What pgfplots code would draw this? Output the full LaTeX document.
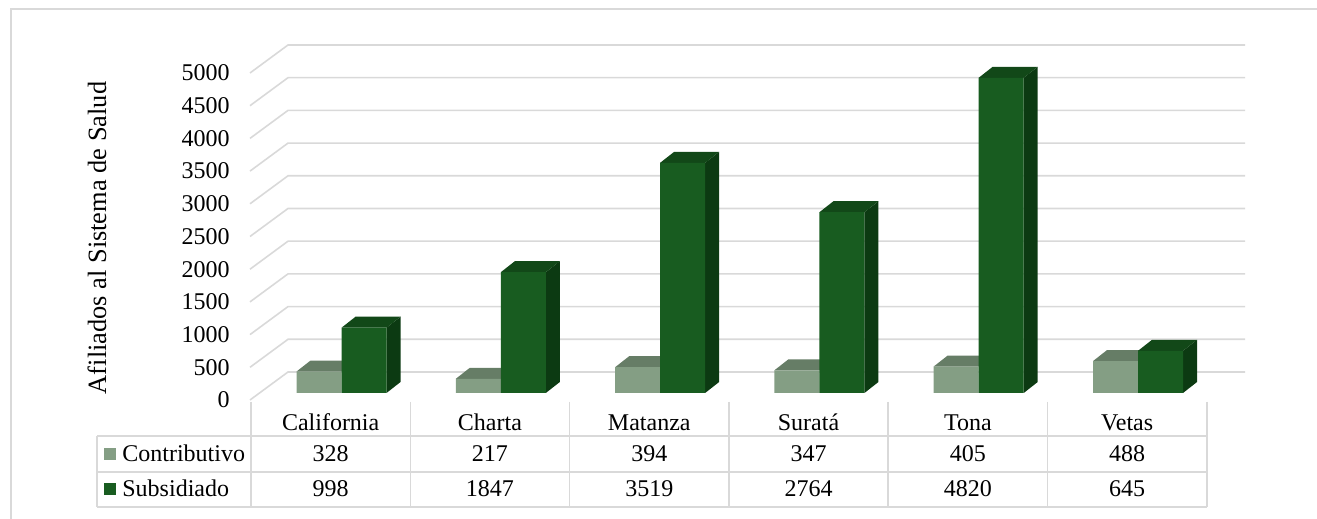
\documentclass[border=0pt]{standalone}
\usepackage{fontspec}
\setmainfont{Liberation Serif}
\usepackage{pgfplots}
\pgfplotsset{compat=1.18}
\usepackage{pgfplotstable}
\definecolor{gridc}{HTML}{D9D9D9}
\definecolor{conF}{HTML}{849E84}
\definecolor{conT}{HTML}{667D66}
\definecolor{subF}{HTML}{185C20}
\definecolor{subT}{HTML}{124818}
\definecolor{subS}{HTML}{0C3A12}

\pgfplotstableread{
x con sub
0 328 998
1 217 1847
2 394 3519
3 347 2764
4 405 4820
5 488 645
}\datatable

\newcommand{\dX}{0.0879}
\newcommand{\dY}{168}
\newcommand{\bw}{0.2825}

% top face of a Contributivo bar (bar lies left of the category position)
\newcommand{\contop}[2]{%
 \pgfmathsetmacro{\xa}{#1-\bw}\pgfmathsetmacro{\xb}{#1-\bw+\dX}\pgfmathsetmacro{\xc}{#1+\dX}\pgfmathsetmacro{\yb}{#2+\dY}%
 \addplot[fill=conT,draw=none,forget plot] coordinates {(\xa,#2) (\xb,\yb) (\xc,\yb) (#1,#2)};
}
% side and top faces of a Subsidiado bar (bar lies right of the category position)
\newcommand{\subcube}[2]{%
 \pgfmathsetmacro{\xa}{#1}\pgfmathsetmacro{\xb}{#1+\bw}\pgfmathsetmacro{\xc}{#1+\dX}\pgfmathsetmacro{\xd}{#1+\bw+\dX}\pgfmathsetmacro{\yb}{#2+\dY}%
 \addplot[fill=subS,draw=none,forget plot] coordinates {(\xb,0) (\xd,\dY) (\xd,\yb) (\xb,#2)};
 \addplot[fill=subT,draw=none,forget plot] coordinates {(\xa,#2) (\xc,\yb) (\xd,\yb) (\xb,#2)};
}

\begin{document}
\begin{tikzpicture}[font=\fontsize{12}{14}\selectfont]
\path[use as bounding box] (0,0) rectangle (658.5pt,259.5pt);
% outer frame
\draw[gridc, line width=0.75pt] (5.5pt,-5pt) -- (5.5pt,255pt) -- (670pt,255pt);
% 3D gridlines (side wall + back wall)
\foreach \v in {0,500,...,5000} {
  \draw[gridc, line width=0.8pt] (125pt,{59.5pt+0.0327pt*\v}) -- (144pt,{73.5pt+0.0327pt*\v}) -- (622.5pt,{73.5pt+0.0327pt*\v});
}
% data table grid
\foreach \yy in {41.5pt,23.5pt,6pt} {
  \draw[gridc, line width=0.8pt] (48.5pt,\yy) -- (603.4pt,\yy);
}
\foreach \k in {0,...,6} {
  \draw[gridc, line width=0.8pt] ({125.5pt+79.65pt*\k},58.5pt) -- ({125.5pt+79.65pt*\k},6pt);
}
\draw[gridc, line width=0.8pt] (48.5pt,41.5pt) -- (48.5pt,6pt);
% category names
\foreach \name [count=\k from 0] in {California,Charta,Matanza,Suratá,Tona,Vetas} {
  \node[anchor=base, inner sep=0pt] at ({165.325pt+79.65pt*\k},44pt) {\name};
}
% values
\foreach \val [count=\k from 0] in {328,217,394,347,405,488} {
  \node[anchor=base, inner sep=0pt] at ({165.325pt+79.65pt*\k},28.5pt) {\val};
}
\foreach \val [count=\k from 0] in {998,1847,3519,2764,4820,645} {
  \node[anchor=base, inner sep=0pt] at ({165.325pt+79.65pt*\k},11pt) {\val};
}
% legend keys
\fill[conF] (52pt,29.25pt) rectangle (58pt,35.25pt);
\fill[subF] (52pt,11.75pt) rectangle (58pt,17.75pt);
\node[anchor=base west, inner sep=0pt] at (61pt,28.5pt) {Contributivo};
\node[anchor=base west, inner sep=0pt] at (61pt,11pt) {Subsidiado};
% y label
\node[rotate=90, inner sep=0pt, font=\fontsize{13.2}{15}\selectfont] at (48.5pt,140.5pt) {Afiliados al Sistema de Salud};

\begin{axis}[
  at={(170.75pt,63pt)}, anchor=origin,
  x=79.65pt, y=0.0327pt,
  xmin=-0.5745, xmax=5.67, ymin=0, ymax=5000,
  disabledatascaling,
  axis x line=none, axis y line*=left,
  y axis line style={draw=none},
  ytick={0,500,...,5000},
  tick style={draw=none},
  major tick length=0pt,
  yticklabel style={anchor=east, inner sep=0pt, xshift=-10pt, yshift=-3.5pt, font=\fontsize{12}{14}\selectfont},
  /pgf/number format/assume math mode=true,
  /pgf/number format/1000 sep={},
  clip=false,
]
\contop{0}{328}
\contop{1}{217}
\contop{2}{394}
\contop{3}{347}
\contop{4}{405}
\contop{5}{488}
\addplot[ybar, bar width=0.2825, bar shift=-0.14125, fill=conF, draw=none] table[x=x,y=con]{\datatable};
\subcube{0}{998}
\subcube{1}{1847}
\subcube{2}{3519}
\subcube{3}{2764}
\subcube{4}{4820}
\subcube{5}{645}
\addplot[ybar, bar width=0.2825, bar shift=0.14125, fill=subF, draw=none] table[x=x,y=sub]{\datatable};
\end{axis}
\end{tikzpicture}
\end{document}
